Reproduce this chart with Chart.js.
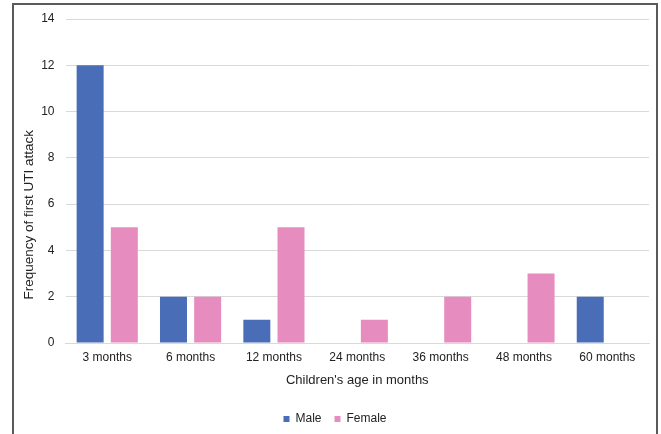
<!DOCTYPE html>
<html>
<head>
<meta charset="utf-8">
<script src="https://cdn.jsdelivr.net/npm/chart.js@4.4.0/dist/chart.umd.min.js"></script>
<style>
  html, body { margin: 0; padding: 0; background: #fff; overflow: hidden; }
  #wrap { position: relative; width: 661px; height: 434px; }
  #frame { position: absolute; left: 12px; top: 3px; width: 642px; height: 440px;
           border: 2px solid #5a5a5a; border-bottom: none; pointer-events: none; }
</style>
</head>
<body>
<div id="wrap">
  <canvas id="myChart" width="661" height="434"></canvas>
  <div id="frame"></div>
</div>
<script>
// data
var ages = ["3 months", "6 months", "12 months", "24 months", "36 months", "48 months", "60 months"];
var male = [12, 2, 1, 0, 0, 0, 2];
var female = [5, 2, 5, 1, 2, 3, 0];
var yTicks = [0, 2, 4, 6, 8, 10, 12, 14];

var font = "'Liberation Sans', Arial, sans-serif";
Chart.defaults.font.family = font;
Chart.defaults.color = "#222";

var ctx = document.getElementById("myChart").getContext("2d");

var mychart = new Chart(ctx, {
  type: "bar",
  data: {
    labels: ages,
    datasets: [{
      label: "Male",
      data: male,
      backgroundColor: "#4a6db8",
      categoryPercentage: 0.82,
      barPercentage: 0.79
    }, {
      label: "Female",
      data: female,
      backgroundColor: "#e68cbe",
      categoryPercentage: 0.82,
      barPercentage: 0.79
    }]
  },
  options: {
    responsive: false,
    animation: false,
    layout: { padding: { left: 21, right: 12, top: 19, bottom: -1 } },
    plugins: {
      legend: {
        position: "bottom",
        labels: { boxWidth: 6, boxHeight: 6, padding: 13, font: { size: 12 }, color: "#222" }
      },
      tooltip: { enabled: false }
    },
    scales: {
      x: {
        grid: { display: false, drawTicks: false },
        border: { display: true, color: "#d9d9d9" },
        ticks: { padding: 7, font: { size: 12 }, color: "#222" },
        title: {
          display: true,
          text: "Children's age in months",
          font: { size: 13 },
          color: "#222",
          padding: { top: 1, bottom: 12 }
        }
      },
      y: {
        min: 0,
        max: 14,
        afterBuildTicks: function(axis) {
          axis.ticks = yTicks.map(function(v) { return { value: v }; });
        },
        grid: { color: "#d9d9d9", drawTicks: false },
        border: { display: false },
        ticks: { padding: 11, font: { size: 12 }, color: "#222" },
        title: {
          display: true,
          text: "Frequency of first UTI attack                  ",
          font: { size: 13.5 },
          color: "#222",
          padding: { top: 0, bottom: -7 }
        }
      }
    }
  }
});
</script>
</body>
</html>
